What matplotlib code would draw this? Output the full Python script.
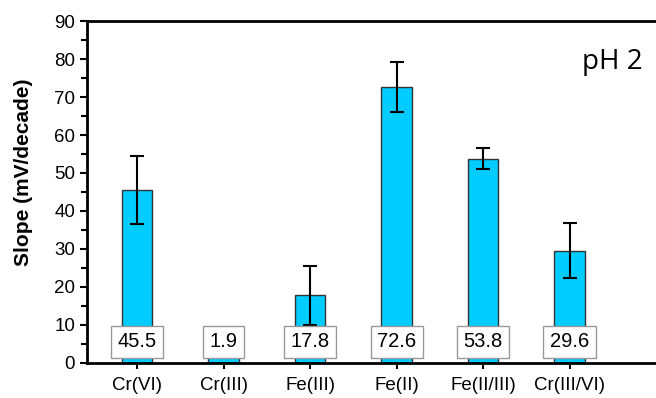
import numpy as np
import matplotlib
matplotlib.use("Agg")
from matplotlib import pyplot as plt
from matplotlib.ticker import MultipleLocator

categories = ["Cr(VI)", "Cr(III)", "Fe(III)", "Fe(II)", "Fe(II/III)", "Cr(III/VI)"]
slopes = [45.5, 1.9, 17.8, 72.6, 53.8, 29.6]
errors = [9.0, 0.4, 7.8, 6.5, 2.7, 7.2]
labels = ["45.5", "1.9", "17.8", "72.6", "53.8", "29.6"]

plt.rcParams["font.family"] = ["Liberation Sans", "DejaVu Sans"]

fig = plt.figure(figsize=(6.56, 3.98), dpi=100)
ax = fig.add_axes([0.1326, 0.088, 0.8674, 0.8592])

x = np.arange(len(categories))
ax.bar(x, slopes, width=0.35, color="#00CCFF", edgecolor="#333333", linewidth=1.0,
       yerr=errors, error_kw=dict(ecolor="black", elinewidth=1.5, capsize=5, capthick=1.5),
       zorder=2)

for xi, lab in zip(x, labels):
    ax.text(xi, 5.6, lab, ha="center", va="center", fontsize=14.5, zorder=3,
            bbox=dict(boxstyle="square,pad=0.32", facecolor="white", edgecolor="#999999", linewidth=1.0))

ax.set_xlim(-0.58, 6.0)
ax.set_ylim(0, 90)
ax.set_xticks(x)
ax.set_xticklabels(categories, fontsize=13.5)
ax.yaxis.set_major_locator(MultipleLocator(10))
ax.yaxis.set_minor_locator(MultipleLocator(5))
ax.tick_params(axis="y", labelsize=13.5, direction="out", length=5, width=1.5)
ax.tick_params(axis="y", which="minor", direction="out", length=4, width=1.5)
ax.tick_params(axis="x", direction="out", length=4, width=1.5, pad=6)

for side in ["left", "bottom", "top"]:
    ax.spines[side].set_linewidth(2)
ax.spines["right"].set_visible(False)

ax.set_ylabel("Slope (mV/decade)", fontsize=15, fontweight="bold")
ax.yaxis.set_label_coords(-0.095, 0.558)
ax.text(0.923, 0.88, "pH 2", transform=ax.transAxes, ha="center", va="center",
        fontsize=20, family=["Open Sans", "DejaVu Sans"])

fig.savefig("out.png", dpi=100)
